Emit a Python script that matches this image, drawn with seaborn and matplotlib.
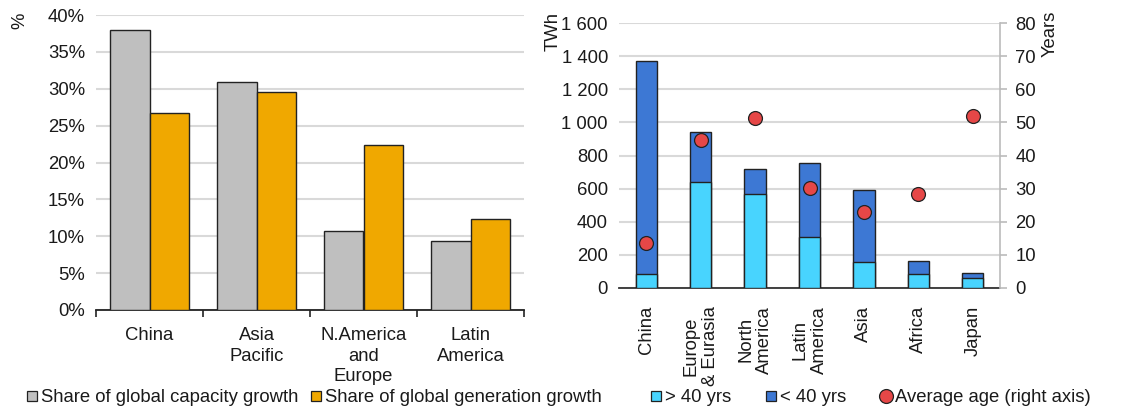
import pandas as pd
import matplotlib
matplotlib.use('Agg')
import matplotlib.pyplot as plt
import seaborn as sns
from matplotlib.lines import Line2D
from matplotlib.ticker import PercentFormatter, FuncFormatter, FixedLocator

# ==========================================
# 1. DATA
# ==========================================
regions_left = ['China', 'Asia\nPacific', 'N.America\nand\nEurope', 'Latin\nAmerica']
capacity_share = [38.0, 30.9, 10.7, 9.4]
generation_share = [26.7, 29.6, 22.4, 12.4]

regions_right = ['China', 'Europe\n& Eurasia', 'North\nAmerica', 'Latin\nAmerica', 'Asia', 'Africa', 'Japan']
over_40 = [83, 640, 567, 305, 160, 83, 58]
under_40 = [1290, 300, 151, 447, 429, 82, 30]
avg_age = [13.6, 44.6, 51.3, 30.2, 22.9, 28.4, 51.8]

GREY = '#BFBFBF'
ORANGE = '#F0A800'
CYAN = '#48D4FE'
BLUE = '#3D78D4'
RED = '#E64747'
GRID = '#D9D9D9'
FS = 13.3

# ==========================================
# 2. STYLE
# ==========================================
sns.set_style("white")
plt.rcParams['font.family'] = ['Liberation Sans', 'DejaVu Sans']
plt.rcParams['font.size'] = FS
plt.rcParams['text.color'] = '#1a1a1a'
plt.rcParams['xtick.color'] = '#1a1a1a'
plt.rcParams['ytick.color'] = '#1a1a1a'

W, H = 1140, 412
fig = plt.figure(figsize=(W / 100, H / 100), dpi=100)

def box(x0, y0, x1, y1):
    return [x0 / W, 1 - y1 / H, (x1 - x0) / W, (y1 - y0) / H]

# ==========================================
# 3. LEFT PANEL: share of growth
# ==========================================
ax1 = fig.add_axes(box(96, 15, 524, 310))
left_df = pd.DataFrame({
    'region': regions_left * 2,
    'value': capacity_share + generation_share,
    'series': ['Share of global capacity growth'] * 4 + ['Share of global generation growth'] * 4,
})
sns.barplot(data=left_df, x='region', y='value', hue='series',
            palette=[GREY, ORANGE], saturation=1, width=0.73, edgecolor='#222222',
            linewidth=1.0, legend=False, ax=ax1, zorder=3)
ax1.set_xlim(-0.5, 3.5)
ax1.set_ylim(0, 40)
ax1.set_yticks(range(0, 41, 5))
ax1.yaxis.set_major_formatter(PercentFormatter(decimals=0))
ax1.grid(axis='y', color=GRID, linewidth=1.5, zorder=0)
ax1.set_axisbelow(True)
for s in ['left', 'right', 'top']:
    ax1.spines[s].set_visible(False)
ax1.spines['bottom'].set_color('#222222')
ax1.spines['bottom'].set_linewidth(1.3)
ax1.set_xlabel('')
ax1.set_ylabel('')
ax1.tick_params(axis='y', length=0, pad=8, labelsize=FS)
ax1.tick_params(axis='x', which='major', length=0, pad=12, labelsize=FS)
ax1.xaxis.set_minor_locator(FixedLocator([-0.5, 0.5, 1.5, 2.5, 3.5]))
ax1.tick_params(axis='x', which='minor', length=5, width=1.2, color='#222222', bottom=True)
for lab in ax1.get_xticklabels():
    lab.set_multialignment('center')
    lab.set_linespacing(1.3)

fig.text(20 / W, 1 - 13 / H, '%', rotation=90, ha='center', va='top', fontsize=FS)

# ==========================================
# 4. RIGHT PANEL: TWh by age + average age
# ==========================================
ax2 = fig.add_axes(box(619, 23, 1000, 288))
right_df = pd.DataFrame({
    'region': regions_right,
    'over_40': over_40,
    'under_40': under_40,
    'avg_age': avg_age,
})
right_df['total'] = right_df['over_40'] + right_df['under_40']

sns.barplot(data=right_df, x='region', y='total', color=BLUE, saturation=1,
            width=0.39, edgecolor='#222222', linewidth=1.0, ax=ax2, zorder=3)
sns.barplot(data=right_df, x='region', y='over_40', color=CYAN, saturation=1,
            width=0.39, edgecolor='#222222', linewidth=1.0, ax=ax2, zorder=4)
ax2.set_xlim(-0.5, 6.5)
ax2.set_ylim(0, 1600)
ax2.set_yticks(range(0, 1601, 200))
ax2.yaxis.set_major_formatter(FuncFormatter(lambda v, p: f'{int(v):,}'.replace(',', ' ')))
ax2.grid(axis='y', color=GRID, linewidth=1.5, zorder=0)
ax2.set_axisbelow(True)
for s in ['left', 'right', 'top']:
    ax2.spines[s].set_visible(False)
ax2.spines['bottom'].set_color('#333333')
ax2.spines['bottom'].set_linewidth(1.3)
ax2.set_xlabel('')
ax2.set_ylabel('')
ax2.tick_params(axis='y', length=0, pad=8, labelsize=FS)
ax2.tick_params(axis='x', length=0, pad=13, labelsize=FS, rotation=90)
for lab in ax2.get_xticklabels():
    lab.set_multialignment('center')
    lab.set_linespacing(1.15)

ax3 = ax2.twinx()
sns.scatterplot(data=right_df, x='region', y='avg_age', color=RED, s=100,
                edgecolor='#222222', linewidth=0.9, ax=ax3, zorder=5, legend=False)
ax3.set_ylim(0, 80)
ax3.set_yticks(range(0, 81, 10))
ax3.set_ylabel('')
for s in ['left', 'top', 'bottom']:
    ax3.spines[s].set_visible(False)
ax3.spines['right'].set_visible(True)
ax3.spines['right'].set_color('#BBBBBB')
ax3.spines['right'].set_linewidth(1.2)
ax3.tick_params(axis='y', length=5, width=1.2, color='#BBBBBB', pad=6, labelsize=FS)

fig.text(553 / W, 1 - 12 / H, 'TWh', rotation=90, ha='center', va='top', fontsize=FS)
fig.text(1050 / W, 1 - 11 / H, 'Years', rotation=90, ha='center', va='top', fontsize=FS)

# ==========================================
# 5. LEGENDS
# ==========================================
def sq(c):
    return Line2D([], [], marker='s', linestyle='none', markersize=7.5,
                  markerfacecolor=c, markeredgecolor='#222222', markeredgewidth=0.9)

leg_kw = dict(frameon=False, ncol=3, fontsize=FS, handlelength=0.7,
              handletextpad=0.15, borderaxespad=0, loc='center left')
fig.legend([sq(GREY), sq(ORANGE)],
           ['Share of global capacity growth', 'Share of global generation growth'],
           bbox_to_anchor=(18 / W, 1 - 398 / H), columnspacing=0.6, **leg_kw)
dot = Line2D([], [], marker='o', linestyle='none', markersize=10,
             markerfacecolor=RED, markeredgecolor='#222222', markeredgewidth=0.9)
fig.legend([sq(CYAN), sq(BLUE), dot],
           ['> 40 yrs', '< 40 yrs', 'Average age (right axis)'],
           bbox_to_anchor=(642 / W, 1 - 398 / H), columnspacing=1.8, **leg_kw)

plt.savefig('out.png', dpi=100)
